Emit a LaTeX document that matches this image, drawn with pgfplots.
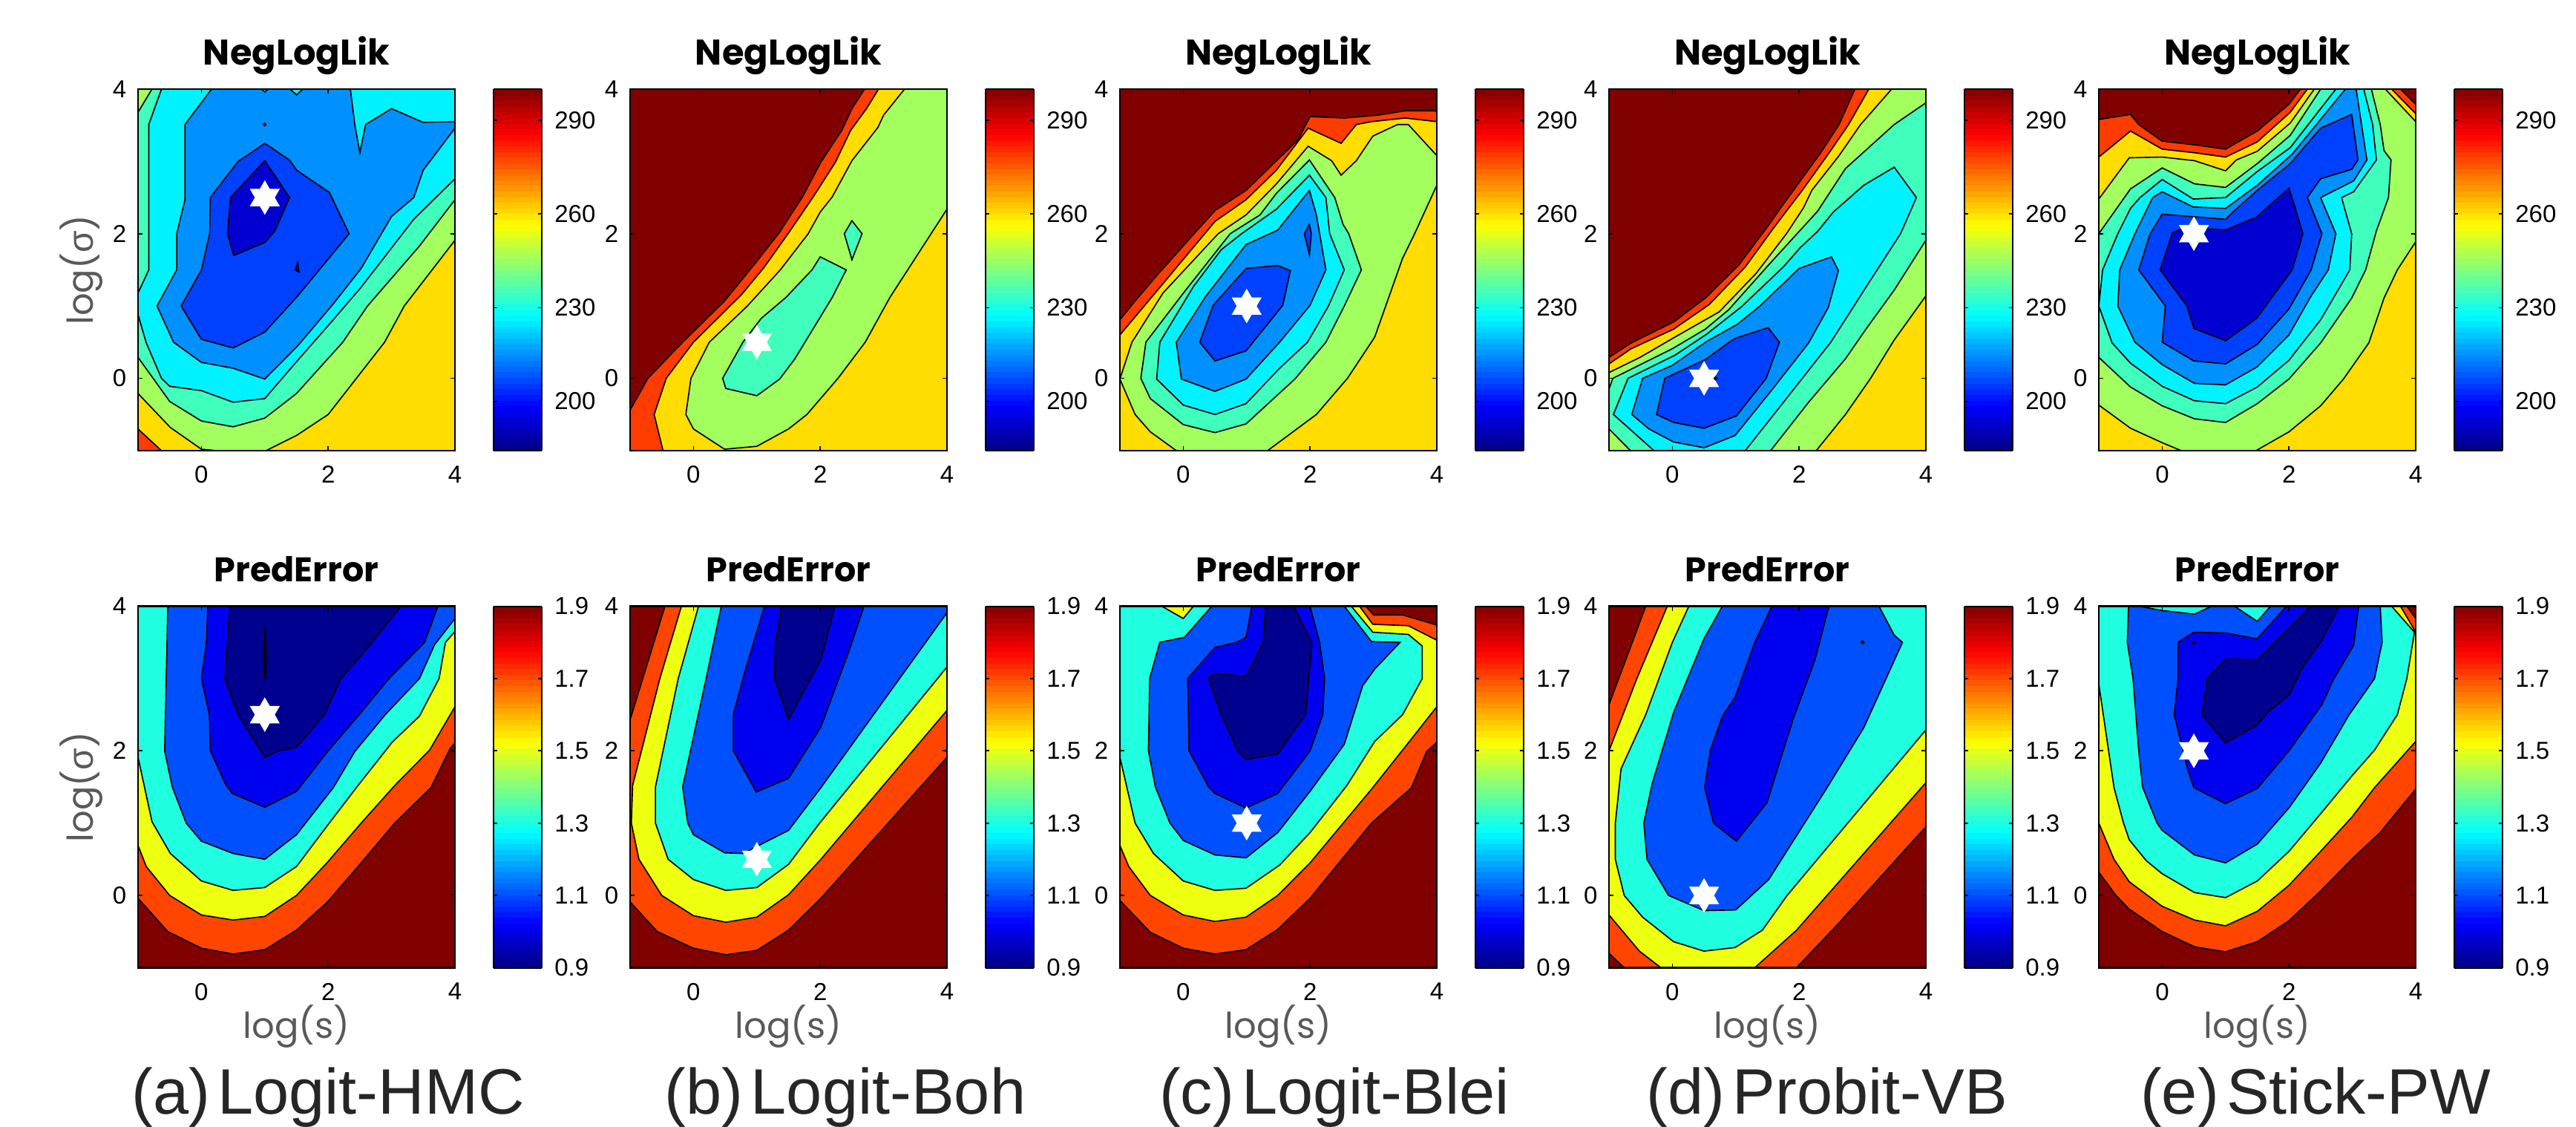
\documentclass[border=0pt]{standalone}
\usepackage{pgfplots}
\pgfplotsset{compat=1.18}
\usepackage{fontspec}
\setmainfont{Liberation Sans}
\newfontfamily\pop{Poppins}
\newfontfamily\sigf{Liberation Sans}
\definecolor{dr}{HTML}{800000}
\definecolor{or}{HTML}{FF3C00}
\definecolor{go}{HTML}{FFDD00}
\definecolor{gr}{HTML}{A2FF5D}
\definecolor{aq}{HTML}{40FFBD}
\definecolor{cy}{HTML}{00F2FF}
\definecolor{az}{HTML}{0090FF}
\definecolor{bl}{HTML}{0040FF}
\definecolor{db}{HTML}{0000D0}
\definecolor{na}{HTML}{00008F}
\definecolor{b2}{HTML}{0000F0}
\definecolor{a2}{HTML}{0050FF}
\definecolor{tq}{HTML}{20FFDF}
\definecolor{ye}{HTML}{EFFF10}
\definecolor{o2}{HTML}{FF4500}
\pgfdeclareplotmark{hexa}{%
 \pgfpathmoveto{\pgfqpoint{0pt}{\pgfplotmarksize}}%
 \pgfpathlineto{\pgfqpoint{0.866\pgfplotmarksize}{-0.5\pgfplotmarksize}}%
 \pgfpathlineto{\pgfqpoint{-0.866\pgfplotmarksize}{-0.5\pgfplotmarksize}}%
 \pgfpathclose
 \pgfpathmoveto{\pgfqpoint{0pt}{-\pgfplotmarksize}}%
 \pgfpathlineto{\pgfqpoint{-0.866\pgfplotmarksize}{0.5\pgfplotmarksize}}%
 \pgfpathlineto{\pgfqpoint{0.866\pgfplotmarksize}{0.5\pgfplotmarksize}}%
 \pgfpathclose
 \pgfusepathqfill}
\newcommand\R[2]{\addplot[fill=#1,draw=black,line width=0.33pt] coordinates {#2} -- cycle;}
\newcommand\Bg[1]{\addplot[fill=#1,draw=none] coordinates {(-1,-1)(4,-1)(4,4)(-1,4)} -- cycle;}
\newcommand\Star[1]{\addplot[only marks,mark=hexa,mark size=4.66pt,color=white,mark options={fill=white,draw=none}] coordinates {#1};}
\newcommand\Dot[1]{\addplot[only marks,mark=*,mark size=0.3pt,color=black] coordinates {#1};}
\pgfplotsset{
 panel/.style={scale only axis,width=85.4pt,height=97.4pt,xmin=-1,xmax=4,ymin=-1,ymax=4,
  xtick={0,2,4},ytick={0,2,4},tick align=inside,major tick length=1.2pt,axis on top,
  axis line style={line width=0.45pt},tick style={line width=0.33pt,black},
  tick label style={font=\fontsize{6.6pt}{7pt}\selectfont,/pgf/number format/assume math mode=true},
  xticklabel style={yshift=-0.6pt},yticklabel style={xshift=0.4pt},
  every axis title shift=0pt,
  title style={font=\pop\bfseries\fontsize{9.6pt}{12pt}\selectfont,at={(axis description cs:0.5,1.067)},anchor=base},
  xlabel style={font=\pop\fontsize{9.6pt}{11pt}\selectfont,text=black!65,at={(axis description cs:0.5,-0.195)},anchor=base},
  ylabel style={font=\pop\fontsize{9.6pt}{11pt}\selectfont,text=black!65,at={(axis description cs:-0.178,0.5)},anchor=center},
  colormap/jet,colorbar sampled},
 cbcommon/.style={samples=65,at={(parent axis.north east)},anchor=north west,xshift=1.8pt,
   scale only axis,width=13pt,height=97.4pt,tick align=inside,major tick length=1pt,
   ytick pos=both,yticklabel pos=right,axis line style={line width=0.4pt},tick style={line width=0.33pt,black},
   tick label style={font=\fontsize{6.6pt}{7pt}\selectfont,/pgf/number format/assume math mode=true}},
 nl/.style={panel,title={NegLogLik},point meta min=184.2,point meta max=300,
   colorbar style={cbcommon,ytick={200,230,260,290}}},
 pe/.style={panel,title={PredError},
   title style={font=\pop\bfseries\fontsize{9.2pt}{12pt}\selectfont},
   point meta min=0.9,point meta max=1.9,
   colorbar style={cbcommon,ytick={0.9,1.1,1.3,1.5,1.7,1.9},
     yticklabel style={/pgf/number format/fixed,/pgf/number format/fixed zerofill,/pgf/number format/precision=1}}},
}
\begin{document}
\begin{tikzpicture}
\path[use as bounding box] (0,0) rectangle (694.2pt,303.4pt);
% ---------- top row ----------
\begin{axis}[nl,at={(37.2pt,182pt)},anchor=south west,ylabel={log({\sigf σ})}]
\Bg{go}
\R{or}{(-1,-0.7)(-0.63,-1)(-1,-1)}
\R{gr}{(-1,-0.21)(-0.49,-0.68)(0,-0.98)(0.24,-1)(1.02,-1)(1.5,-0.79)(2,-0.5)(2.89,0.5)(3.2,1)(3.64,1.5)(4,1.91)(4,4)(-1,4)}
\R{aq}{(-0.78,4)(-1,3.68)(-1,0.29)(-0.5,-0.32)(0,-0.59)(0.5,-0.67)(1,-0.55)(1.5,-0.21)(2.23,0.5)(2.62,1)(3.44,1.83)(4,2.47)(4,4)}
\R{cy}{(-0.63,4)(-0.83,3.51)(-0.83,1.5)(-1,1.18)(-1,0.88)(-0.87,0.49)(-0.63,0)(-0.5,-0.11)(0,-0.17)(0.5,-0.33)(1,-0.28)(1.5,0.23)(2.04,0.77)(2.52,1.26)(3.35,2.2)(4,2.76)(4,4)}
\R{az}{(0.16,4)(-0.26,3.51)(-0.26,2.47)(-0.39,2)(-0.39,1.5)(-0.7,1)(-0.44,0.5)(0,0.22)(0.5,0.14)(1,-0.01)(1.52,0.45)(2.08,1.03)(2.52,1.52)(3,2.24)(3.35,2.5)(3.5,2.88)(4,3.46)(4,3.55)(3.5,3.54)(3,3.73)(2.59,3.51)(2.5,3.12)(2.42,3.51)(2.35,4)}
\R{cy}{(1.4,4)(1.5,3.92)(1.6,4)}
\R{cy}{(0.95,4)(1,3.96)(1.05,4)}
\Dot{(1,3.51)}
\R{bl}{(1,3.25)(1.39,3.02)(1.5,2.88)(2.02,2.57)(2.33,2)(1.52,1.14)(1,0.64)(0.5,0.42)(0,0.54)(-0.32,1)(0,1.5)(0.13,2)(0.14,2.5)(0.58,3)}
\R{db}{(1,3.01)(1.39,2.5)(1.16,2.04)(1,1.88)(0.51,1.7)(0.41,2)(0.46,2.5)}
\R{db}{(1.48,1.5)(1.52,1.6)(1.54,1.47)}
\Star{(1,2.5)}
\end{axis}
\begin{axis}[nl,at={(169.8pt,182pt)},anchor=south west]
\Bg{go}
\R{gr}{(3.33,4)(3,3.64)(2.91,3.47)(2.5,3.01)(2.19,2.51)(2,2.3)(1.81,2)(1.37,1.5)(0.85,1)(0.25,0.5)(-0.04,0)(-0.12,-0.5)(0,-0.7)(0.49,-0.98)(1,-0.94)(1.5,-0.7)(1.79,-0.5)(2.28,0)(2.71,0.5)(3.1,1.12)(4,2.34)(4,4)}
\R{or}{(-0.48,-1)(-0.62,-0.5)(-0.43,0)(0,0.5)(0.76,1.16)(1.11,1.53)(1.5,2.01)(1.89,2.51)(2.24,2.99)(2.48,3.43)(2.73,3.73)(2.92,4)(-1,4)(-1,-1)}
\R{dr}{(-1,-0.44)(-0.72,0)(-0.17,0.5)(0.49,1.07)(0.76,1.36)(1,1.62)(1.35,2.01)(1.72,2.51)(2.01,2.99)(2.34,3.43)(2.5,3.73)(2.7,4)(-1,4)}
\R{aq}{(2,1.68)(2.41,1.5)(2.19,1.12)(1.6,0.27)(1.36,-0.01)(1,-0.24)(0.51,-0.14)(0.46,0)(0.78,0.5)(1.07,0.83)(1.46,1.12)(1.87,1.5)}
\R{aq}{(2.5,2.18)(2.66,2)(2.5,1.64)(2.38,2)}
\Star{(1,0.5)}
\end{axis}
\begin{axis}[nl,at={(301.8pt,182pt)},anchor=south west]
\Bg{go}
\R{gr}{(-1,-0.01)(-0.76,-0.5)(-0.52,-0.74)(-0.11,-1)(1.33,-1)(2.1,-0.5)(2.59,0)(3.02,0.57)(3.46,1.66)(3.65,2)(4,2.67)(4,3.08)(3.55,3.51)(3.38,3.51)(2.99,3.35)(2.73,3.01)(2.49,2.81)(2.34,3.01)(1.97,3.21)(1.47,2.69)(0.99,2.26)(0.55,2)(-0.32,1.18)(-0.81,0.5)}
\R{or}{(-1,0.6)(-0.32,1.31)(0.5,2.17)(0.99,2.47)(1.47,2.88)(1.97,3.46)(2.49,3.25)(2.73,3.51)(2.97,3.55)(3.5,3.6)(4,3.55)(4,4)(-1,4)}
\R{dr}{(-1,0.81)(-0.76,1.07)(-0.42,1.42)(0.21,2.04)(0.5,2.32)(0.99,2.6)(1.47,3.01)(1.81,3.3)(2,3.62)(2.54,3.6)(3.07,3.64)(3.5,3.7)(4,3.7)(4,4)(-1,4)}
\R{aq}{(1.99,3.02)(2.39,2.5)(2.52,2.13)(2.61,2)(2.81,1.5)(2.54,1)(2.25,0.5)(1.76,-0.01)(0.99,-0.63)(0.5,-0.75)(0,-0.64)(-0.52,-0.28)(-0.67,0)(-0.59,0.5)(0.02,1.2)(0.74,2)(1.21,2.26)(1.47,2.56)}
\R{cy}{(1.99,2.81)(2.25,2.5)(2.31,2)(2.54,1.5)(2.29,1)(1.96,0.5)(1.52,0.14)(0.99,-0.35)(0.5,-0.5)(0,-0.37)(-0.42,-0.01)(-0.37,0.5)(0.16,1.27)(0.6,1.78)(0.92,2)(1.47,2.34)}
\R{az}{(1.99,2.6)(2.1,2.26)(2.25,1.5)(2,1.01)(1.52,0.5)(0.99,-0.01)(0.5,-0.18)(-0.03,-0.01)(-0.11,0.5)(0.35,1.13)(0.99,1.85)(1.49,2.05)}
\R{bl}{(0.99,1.52)(1.49,1.56)(1.69,1.49)(1.57,1.01)(0.99,0.38)(0.5,0.24)(0.26,0.5)(0.47,1.01)}
\R{bl}{(1.99,2.13)(2.02,2)(1.99,1.71)(1.91,2)}
\Star{(1,1)}
\end{axis}
\begin{axis}[nl,at={(433.6pt,182pt)},anchor=south west]
\Bg{go}
\R{gr}{(-1,0.08)(-0.51,0.29)(0.02,0.56)(0.74,0.92)(1.32,1.45)(1.8,2)(2.07,2.36)(2.2,2.6)(2.63,3.08)(2.97,3.51)(3.46,4)(4,4)(4,1.14)(3.5,0.53)(3.12,-0.01)(2.73,-0.5)(2.27,-1)(-1,-1)}
\R{or}{(-1,0.2)(-0.65,0.41)(0.02,0.68)(0.58,1.02)(1.15,1.54)(1.59,2.07)(1.84,2.36)(2.05,2.6)(2.49,3.14)(2.78,3.51)(3.1,4)(-1,4)}
\R{dr}{(-1,0.29)(-0.65,0.49)(0.02,0.78)(0.52,1.11)(1.05,1.57)(1.52,2.12)(1.71,2.36)(1.91,2.6)(2.34,3.12)(2.63,3.51)(2.88,4)(-1,4)}
\R{aq}{(-1,-0.15)(-0.94,0)(0,0.41)(0.52,0.68)(0.89,0.95)(1.52,1.57)(2.29,2.31)(2.73,2.9)(3.5,3.51)(4,3.81)(4,1.91)(3.5,1.22)(3.07,0.7)(2.73,0.27)(2.15,-0.33)(1.55,-1)(-0.66,-1)(-1,-0.7)}
\R{cy}{(3.5,2.92)(3.85,2.5)(3.6,2)(3.12,1.35)(2.5,0.5)(1.15,-1)(-0.29,-1)(-0.93,-0.5)(-0.7,0)(0.04,0.32)(0.54,0.61)(1.09,0.99)(1.75,1.54)(2.02,1.81)(2.29,2.03)(2.54,2.3)(3.02,2.67)}
\R{az}{(2.51,1.68)(2.62,1.49)(2.46,0.98)(2.15,0.49)(1.57,-0.16)(0.99,-0.79)(0.5,-0.96)(0.02,-0.88)(-0.37,-0.7)(-0.64,-0.5)(-0.47,0)(0,0.18)(0.54,0.51)(1.03,0.75)(1.38,1)(2,1.52)}
\R{bl}{(1.51,0.7)(1.69,0.5)(1.48,0)(1.01,-0.52)(0.5,-0.69)(0.02,-0.61)(-0.25,-0.5)(-0.12,0)(0.52,0.26)(0.93,0.52)(1.01,0.56)}
\Star{(0.5,0)}
\Dot{(0.68,0)}
\end{axis}
\begin{axis}[nl,at={(565.6pt,182pt)},anchor=south west]
\Bg{go}
\R{gr}{(-1,2.48)(-0.52,3.05)(0,3.06)(0.51,3.01)(1,2.87)(1.17,3.02)(1.5,3.14)(2.02,3.53)(2.4,4)(3.52,4)(4,3.55)(4,1.89)(3.71,1.5)(3.5,1.11)(3.26,0.49)(2.86,-0.01)(2.5,-0.38)(2,-0.74)(1.48,-1)(0.3,-1)(0,-0.89)(-0.5,-0.69)(-1,-0.37)}
\R{or}{(-1,3.06)(-0.5,3.42)(0,3.17)(0.51,3.12)(1,3.06)(1.5,3.27)(2.02,3.68)(2.29,4)(-1,4)}
\R{dr}{(-1,3.58)(-0.5,3.65)(-0.37,3.51)(0,3.28)(0.51,3.23)(1,3.17)(1.5,3.42)(2,3.79)(2.18,4)(-1,4)}
\R{or}{(3.62,4)(4,3.66)(4,4)}
\R{dr}{(3.76,4)(4,3.79)(4,4)}
\R{aq}{(-1,2)(-0.5,2.62)(0,2.91)(0.51,2.69)(1,2.64)(1.5,2.97)(2.02,3.36)(2.5,4)(3.3,4)(3.44,3.51)(3.5,3.15)(3.61,3.02)(3.57,2.5)(3.38,2.04)(3.21,1.5)(2.99,1.11)(2.5,0.49)(2,-0.01)(1.5,-0.35)(1,-0.61)(0.51,-0.56)(0,-0.38)(-0.5,-0.12)(-1,0.29)}
\R{cy}{(-1,1)(-0.94,1.5)(-0.7,2)(-0.5,2.35)(-0.35,2.5)(0,2.75)(0.49,2.48)(1,2.5)(1.5,2.86)(2.02,3.19)(2.74,4)(3.18,4)(3.32,3.51)(3.38,3.02)(3.02,2.58)(2.83,2.5)(2.99,2)(2.96,1.5)(2.5,0.81)(2,0.25)(1.5,-0.12)(1,-0.35)(0.51,-0.31)(0,-0.11)(-0.5,0.21)(-0.79,0.49)}
\R{az}{(2.89,4)(3.06,4)(3.23,3.02)(3.02,2.73)(2.5,2.5)(2.74,2)(2.62,1.5)(2.35,1.14)(2,0.6)(1.5,0.16)(1,-0.09)(0.51,-0.07)(0,0.19)(-0.43,0.5)(-0.7,1)(-0.67,1.5)(-0.43,2)(-0.15,2.5)(0,2.58)(0.49,2.37)(1,2.35)(1.5,2.67)(2.05,3.1)}
\R{bl}{(2.99,3.65)(3.09,3.02)(2.99,2.89)(2.5,2.76)(2.29,2.5)(2.52,2)(2.35,1.5)(2,0.96)(1.5,0.47)(1,0.2)(0.5,0.24)(0,0.5)(0.05,1)(-0.37,1.5)(-0.19,2)(0,2.27)(1,2.2)(1.14,2.32)(1.5,2.6)(2.02,2.97)(2.5,3.46)}
\R{db}{(2,2.63)(2.09,2.38)(2.22,2)(2.05,1.5)(1.49,0.83)(1,0.52)(0.5,0.69)(0.39,1)(-0.03,1.5)(0.16,2.01)(0.36,2.09)(1,2.05)(1.49,2.23)(1.81,2.48)}
\Star{(0.5,2)}
\end{axis}
% ---------- bottom row ----------
\begin{axis}[pe,at={(37.2pt,42.7pt)},anchor=south west,ylabel={log({\sigf σ})},xlabel={log(s)}]
\Bg{dr}
\R{o2}{(-1,-0.04)(-0.53,-0.5)(0,-0.73)(0.5,-0.81)(1,-0.75)(1.5,-0.48)(1.99,-0.09)(2.52,0.45)(3.05,1)(3.62,1.49)(3.93,2.04)(4,2.11)(4,4)(-1,4)}
\R{ye}{(-1,0.69)(-0.87,0.4)(-0.5,0)(0,-0.27)(0.5,-0.34)(1,-0.29)(1.5,0)(1.98,0.45)(2.52,1)(3.05,1.52)(3.6,2.01)(4,2.61)(4,4)(-1,4)}
\R{tq}{(-1,1.91)(-0.78,1.02)(-0.49,0.58)(0,0.2)(0.5,0.07)(1,0.11)(1.5,0.4)(1.99,0.97)(2.47,1.52)(3.01,2.12)(3.44,2.48)(3.75,3)(3.85,3.5)(4,3.65)(4,4)(-1,4)}
\R{a2}{(-0.53,4)(-0.58,2)(-0.46,1.5)(-0.24,1)(0,0.75)(0.5,0.58)(1,0.5)(1.5,0.84)(2.08,1.49)(2.42,1.99)(2.9,2.5)(3.44,3)(3.68,3.47)(4,3.83)(4,4)}
\R{b2}{(0.1,4)(0.08,3.5)(0,3)(0.125,2.5)(0.14,2)(0.39,1.52)(0.49,1.41)(1,1.22)(1.5,1.44)(1.99,1.99)(2.47,2.48)(2.96,3)(3.52,3.5)(3.73,4)}
\R{na}{(0.45,4)(0.37,3)(0.58,2.5)(1,1.91)(1.21,2)(1.5,2.05)(1.94,2.5)(2.2,3)(2.57,3.37)(3.15,4)}
\R{b2}{(1,3.7)(1.02,3.4)(1.01,3)(0.99,3)(0.99,3.4)}
\Star{(1,2.5)}
\end{axis}
\begin{axis}[pe,at={(169.8pt,42.7pt)},anchor=south west,xlabel={log(s)}]
\Bg{dr}
\R{o2}{(-1,-0.09)(-0.57,-0.5)(0,-0.73)(0.51,-0.82)(1,-0.76)(1.5,-0.48)(2.01,-0.04)(4,1.91)(4,4)(-0.45,4)(-1,2.43)}
\R{ye}{(-0.19,4)(-0.53,3)(-0.96,1.52)(-0.98,1)(-0.86,0.5)(-0.5,0)(0,-0.28)(0.51,-0.37)(1,-0.3)(1.5,0.01)(2.01,0.5)(4,2.56)(4,4)}
\R{tq}{(0.08,4)(-0.24,3)(-0.6,1.5)(-0.6,1)(-0.4,0.5)(0,0.22)(0.51,0.07)(1,0.11)(1.5,0.43)(1.99,1)(4,3.16)(4,4)}
\R{a2}{(0.44,4)(0.2,3)(-0.17,1.5)(-0.09,1)(0,0.84)(0.49,0.59)(0.78,0.58)(1.5,0.9)(2.01,1.49)(4,3.91)(4,4)}
\R{b2}{(1.12,4)(0.78,3)(0.63,2.5)(0.63,2)(0.99,1.43)(1.5,1.62)(2.01,2.33)(2.47,3.42)(2.69,4)}
\R{na}{(1.39,4)(1.29,3.47)(1.28,3)(1.5,2.43)(2.01,3.26)(2.23,4)}
\Star{(1,0.5)}
\end{axis}
\begin{axis}[pe,at={(301.8pt,42.7pt)},anchor=south west,xlabel={log(s)}]
\Bg{dr}
\R{o2}{(-1,-0.07)(-0.52,-0.51)(0,-0.73)(0.5,-0.81)(0.99,-0.75)(1.49,-0.47)(2,-0.04)(2.97,1)(3.6,1.49)(3.84,1.99)(4,2.12)(4,3.74)(3.46,3.88)(3,3.88)(2.88,4)(-1,4)}
\R{ye}{(-1,0.69)(-0.86,0.4)(-0.52,0)(0,-0.27)(0.5,-0.36)(0.99,-0.3)(1.49,0)(2,0.45)(2.97,1.47)(3.46,2.01)(4,2.61)(4,3.53)(3.55,3.73)(2.99,3.75)(2.78,4)(-1,4)}
\R{tq}{(-1,1.91)(-0.76,1)(-0.47,0.58)(0,0.2)(0.5,0.07)(0.99,0.1)(1.52,0.42)(2,0.87)(2.58,1.52)(3.02,2.13)(3.46,2.5)(3.77,3)(3.77,3.45)(3.55,3.61)(2.99,3.64)(2.65,4)(-1,4)}
\R{ye}{(-0.34,4)(0,3.83)(0.16,4)}
\R{a2}{(0.45,4)(0.02,3.57)(-0.37,3.5)(-0.53,3)(-0.55,2)(-0.44,1.5)(-0.21,1)(0,0.76)(0.5,0.56)(0.99,0.52)(1.49,0.87)(2,1.44)(2.54,2.09)(2.83,2.9)(3.02,3.13)(3.42,3.5)(2.97,3.51)(2.54,4)}
\R{b2}{(1.08,4)(0.99,3.57)(0.84,3.5)(0.5,3.43)(0.07,3)(0.09,2)(0.4,1.5)(0.5,1.41)(0.99,1.21)(1.49,1.41)(2,2)(2.2,2.5)(2.23,3)(2.15,3.5)(2,4)}
\R{na}{(1.3,4)(1.26,3.5)(0.99,3.03)(0.5,3.07)(0.4,3)(0.6,2.5)(0.86,2)(0.99,1.88)(1.49,1.96)(1.93,2.5)(2.03,3.5)(1.74,4)}
\Star{(1,1)}
\end{axis}
\begin{axis}[pe,at={(433.6pt,42.7pt)},anchor=south west,xlabel={log(s)}]
\Bg{dr}
\R{o2}{(-0.42,4)(-1,2.64)(-1,-0.8)(-0.76,-1)(1.96,-1)(2.63,-0.38)(4,0.95)(4,4)}
\R{ye}{(-0.08,4)(-0.56,3)(-1,2)(-1,-0.27)(-0.52,-0.77)(-0.18,-1)(1.3,-1)(1.96,-0.48)(4,1.56)(4,4)}
\R{tq}{(0.26,4)(0,3.5)(-0.42,2.5)(-0.81,1.75)(-0.9,1)(-0.9,0.5)(-0.76,0)(-0.47,-0.3)(0.02,-0.64)(0.5,-0.77)(0.99,-0.72)(1.42,-0.48)(1.81,0)(4,2.29)(4,4)}
\R{a2}{(0.79,4)(0.5,3.55)(0.02,2.53)(-0.32,1.54)(-0.45,1)(-0.4,0.5)(-0.06,0)(0.5,-0.21)(1,-0.2)(1.52,0.22)(2.44,1.49)(3.02,2.32)(3.63,3.5)(3.5,3.6)(3.26,4)}
\R{b2}{(1.57,4)(1.3,3.5)(0.99,2.74)(0.79,2.48)(0.6,2.01)(0.51,1.49)(0.65,1)(1.01,0.75)(1.49,1.28)(1.91,2.45)(2.25,3.26)(2.47,4)}
\Dot{(3,3.5)}
\Star{(0.5,0)}
\end{axis}
\begin{axis}[pe,at={(565.6pt,42.7pt)},anchor=south west,xlabel={log(s)}]
\Bg{dr}
\R{o2}{(-1,0.32)(-0.73,0)(-0.52,-0.19)(0,-0.5)(0.51,-0.71)(1,-0.78)(1.5,-0.64)(2,-0.35)(2.5,0.06)(2.99,0.5)(3.44,0.87)(4,1.47)(4,3.83)(3.86,4)(-1,4)}
\R{ye}{(-1,1)(-0.76,0.5)(-0.52,0.19)(0,-0.15)(0.51,-0.34)(1,-0.42)(1.5,-0.22)(2,0.14)(2.5,0.61)(2.99,1.08)(3.35,1.49)(4,2.13)(4,3.64)(3.76,4)(-1,4)}
\R{tq}{(-1,2.92)(-0.76,1.49)(-0.61,1)(-0.52,0.77)(-0.25,0.48)(0,0.3)(0.51,0.04)(1,-0.03)(1.5,0.2)(2,0.61)(2.5,1.13)(2.99,1.65)(3.35,2.01)(3.71,2.5)(3.86,3)(3.98,3.64)(3.62,4)(-1,4)}
\R{a2}{(-0.53,4)(-0.55,3.5)(-0.46,3)(-0.37,2)(-0.31,1.5)(-0.08,1)(0,0.9)(0.51,0.56)(1,0.45)(1.5,0.71)(2,1.21)(2.5,1.83)(2.95,2.5)(3.35,3)(3.47,3.5)(3.44,4)}
\R{tq}{(-0.37,4)(0,3.94)(0.51,3.89)(0.78,4)}
\R{tq}{(1.14,4)(1.5,3.79)(1.71,4)}
\R{b2}{(0.25,3.5)(0.5,3.64)(1,3.63)(1.5,3.55)(1.96,4)(3.1,4)(3.02,3.46)(2.71,3)(2.52,2.64)(1.99,1.99)(1.5,1.48)(1,1.27)(0.5,1.49)(0.4,1.75)(0.19,2.5)(0.25,3)}
\Dot{(0.5,3.5)}
\R{na}{(2.34,4)(1.5,3.26)(1,3.27)(0.71,3)(0.63,2.5)(1,2.11)(1.49,2.35)(1.66,2.53)(2,2.77)(2.23,3.18)(2.5,3.5)(2.79,4)}
\Star{(0.5,2)}
\end{axis}
% captions
\foreach \x/\t in {88.4/{(a)\hspace{0.12em}Logit-HMC},227.8/{(b)\hspace{0.12em}Logit-Boh},359.6/{(c)\hspace{0.12em}Logit-Blei},492.4/{(d)\hspace{0.12em}Probit-VB},624/{(e)\hspace{0.12em}Stick-PW}}
 \node[anchor=base,inner sep=0pt,text=black!85,font=\fontsize{17.3pt}{20pt}\selectfont] at (\x pt,3.4pt) {\t};
\end{tikzpicture}
\end{document}
